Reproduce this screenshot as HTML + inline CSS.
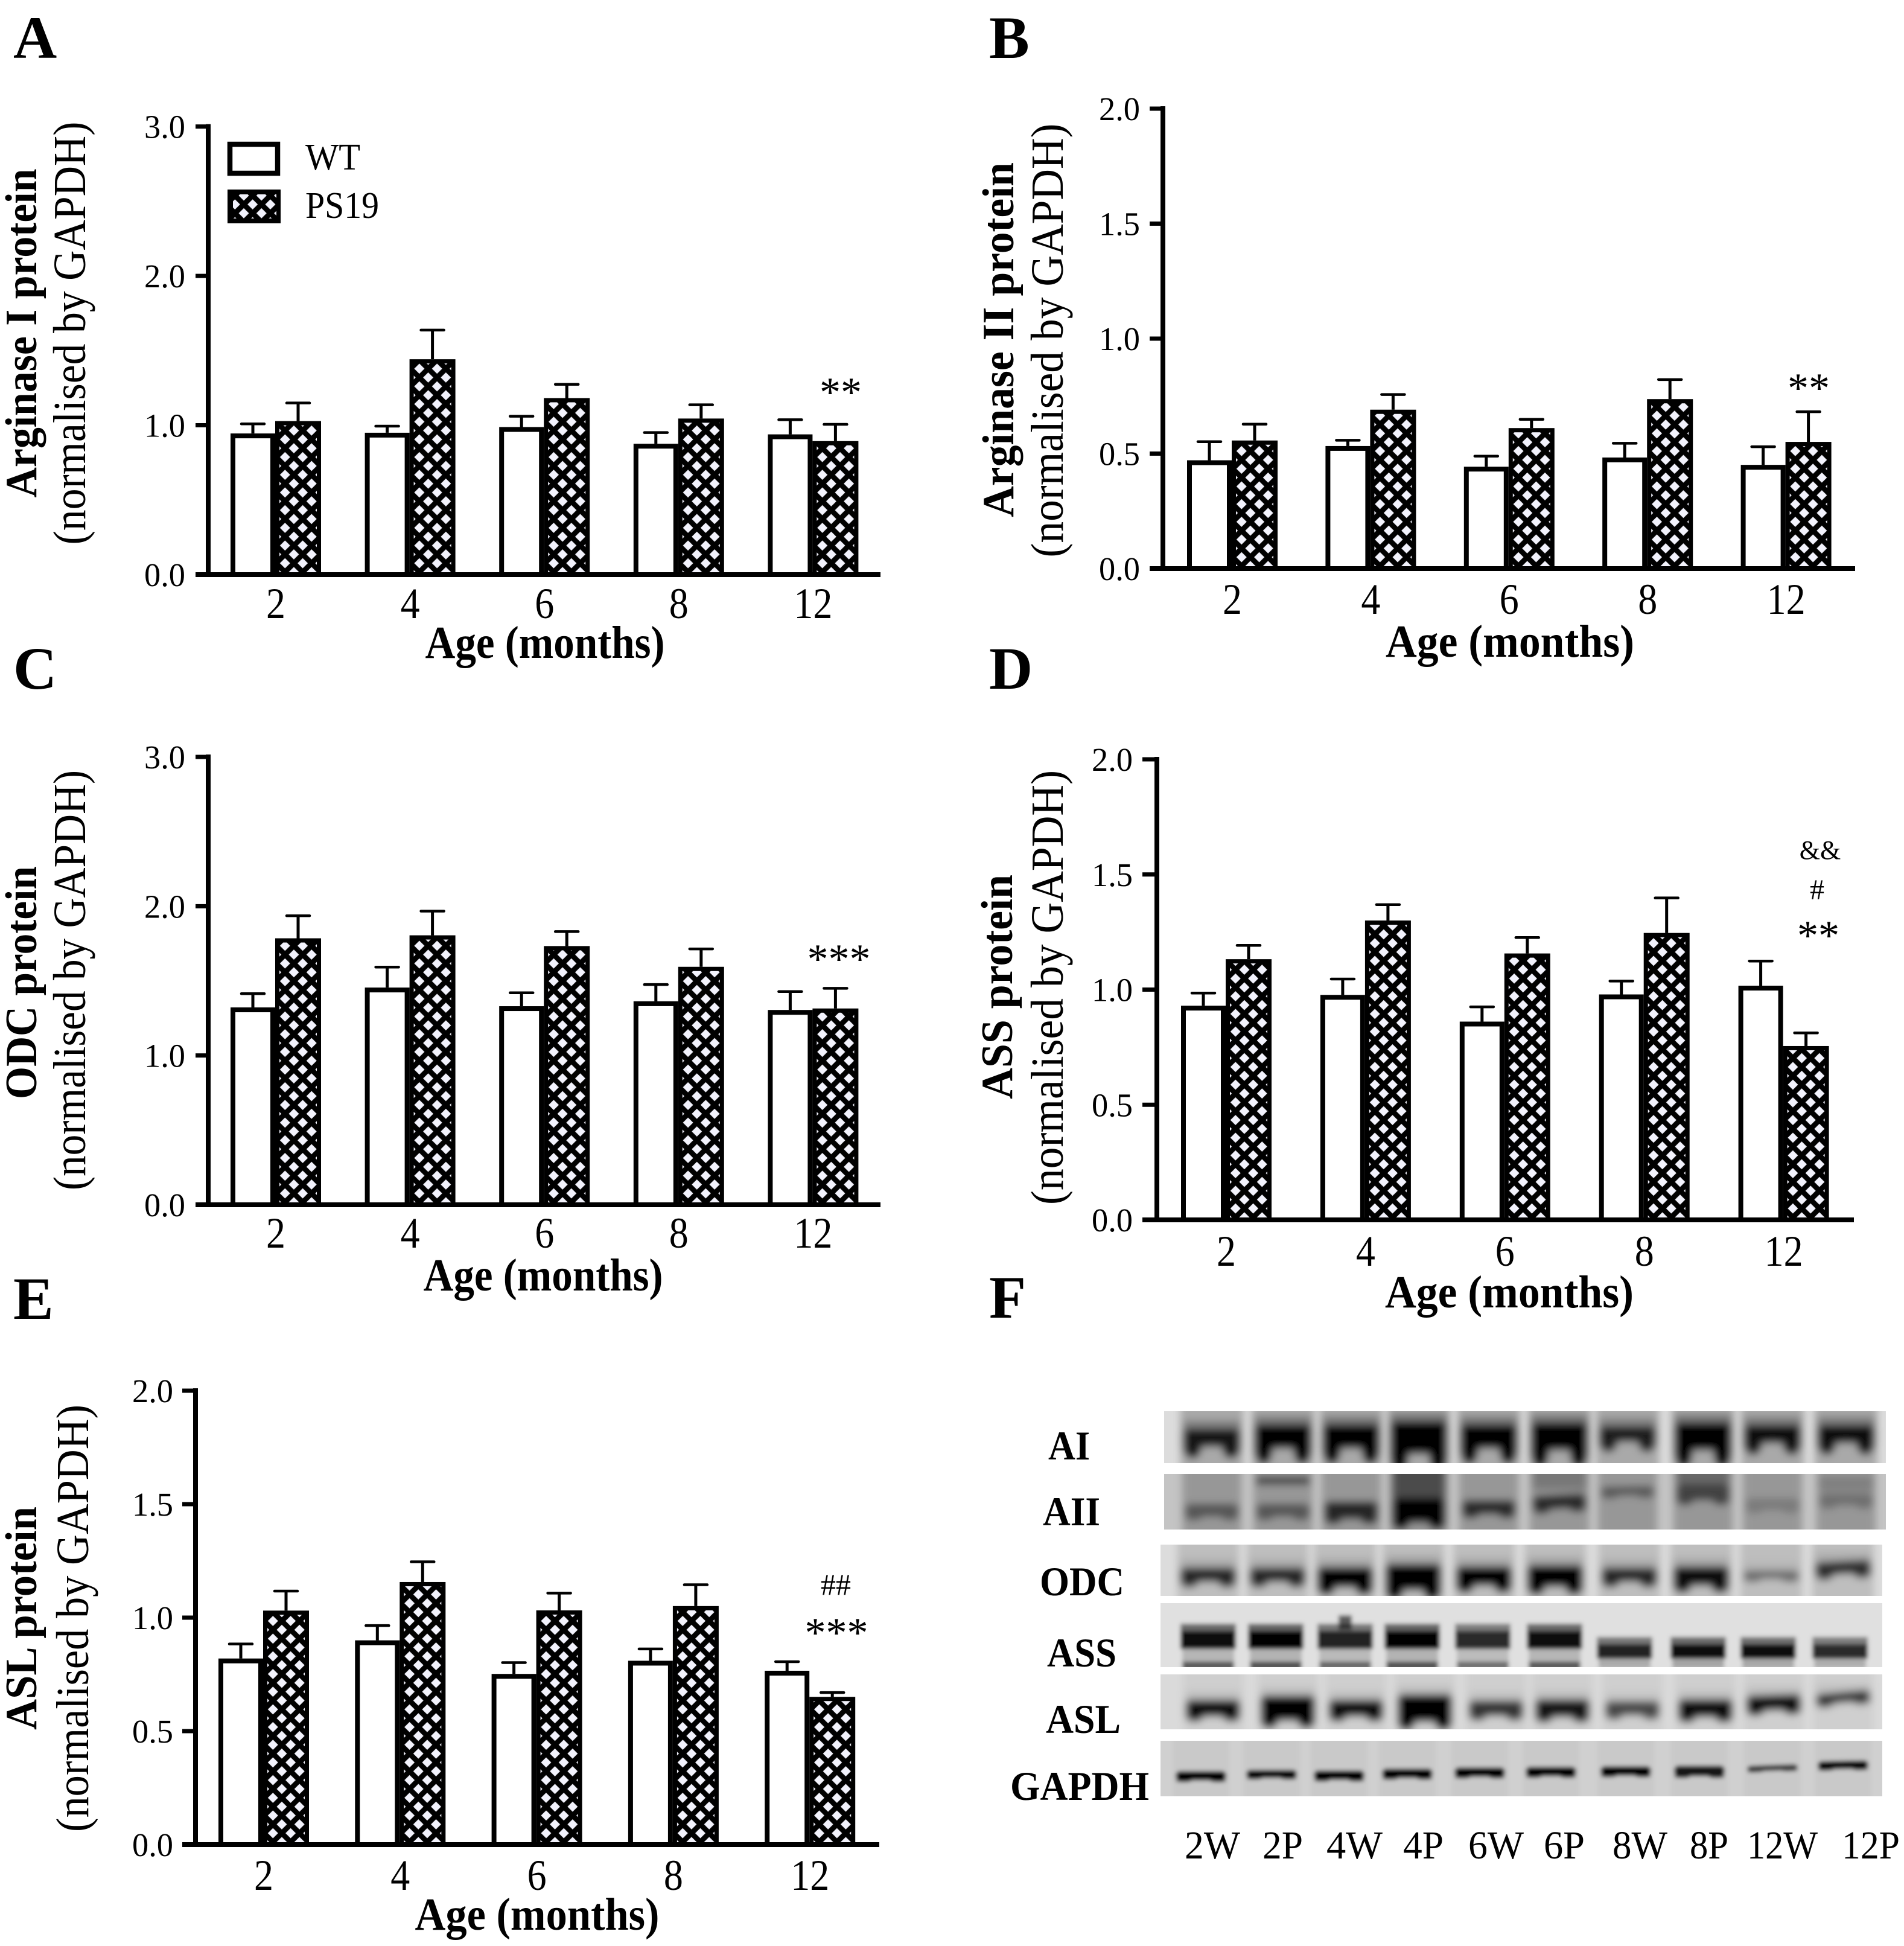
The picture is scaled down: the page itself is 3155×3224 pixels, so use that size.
<!DOCTYPE html>
<html lang="en">
<head>
<meta charset="utf-8">
<title>Arginine metabolism proteins in WT and PS19 mice</title>
<style>
html,body{margin:0;padding:0;background:#fff;}
svg{display:block;}
text{font-family:"Liberation Serif",serif;fill:#000;}
</style>
</head>
<body>
<svg id="figure" xmlns="http://www.w3.org/2000/svg" width="3155" height="3224" viewBox="0 0 3155 3224">
<defs>
<pattern id="hatch" patternUnits="userSpaceOnUse" width="29.3" height="29.3">
<rect width="29.3" height="29.3" fill="#000"/>
<polygon points="0,-8.5 8.5,0 0,8.5 -8.5,0" fill="#f2f2fc"/>
<polygon points="29.3,-8.5 37.8,0 29.3,8.5 20.8,0" fill="#f2f2fc"/>
<polygon points="0,20.8 8.5,29.3 0,37.8 -8.5,29.3" fill="#f2f2fc"/>
<polygon points="29.3,20.8 37.8,29.3 29.3,37.8 20.8,29.3" fill="#f2f2fc"/>
<polygon points="14.65,6.15 23.15,14.65 14.65,23.15 6.15,14.65" fill="#f2f2fc"/>
</pattern>
<filter id="blur-soft" x="-5%" y="-30%" width="110%" height="160%"><feGaussianBlur stdDeviation="6.5"/></filter>
<filter id="blur-hard" x="-5%" y="-30%" width="110%" height="160%"><feGaussianBlur stdDeviation="3.5"/></filter>
</defs>
<rect width="3155" height="3224" fill="#fff"/>

<text x="22" y="96" font-size="100" font-weight="bold">A</text>
<text x="1639" y="96" font-size="100" font-weight="bold">B</text>
<text x="22" y="1141" font-size="100" font-weight="bold">C</text>
<text x="1639" y="1141" font-size="100" font-weight="bold">D</text>
<text x="22" y="2185" font-size="100" font-weight="bold">E</text>
<text x="1639" y="2183" font-size="100" font-weight="bold">F</text>

<g>
<rect x="381" y="239" width="79" height="48" fill="#fff" stroke="#000" stroke-width="8.5"/>
<text x="506" y="281" font-size="62" textLength="91" lengthAdjust="spacingAndGlyphs">WT</text>
<rect x="377" y="314" width="88" height="56" fill="#000"/>
<g transform="translate(404,324)"><rect x="-18" y="-2" width="72" height="40" fill="url(#hatch)"/></g>
<text x="506" y="361" font-size="62" textLength="122" lengthAdjust="spacingAndGlyphs">PS19</text>
</g>

<g id="charts"></g>
<g id="blots"></g>

<script>
/* ---------- chart data ---------- */
const categories = ['2', '4', '6', '8', '12'];
const ticks3 = [0, 1, 2, 3];
const ticks2 = [0, 0.5, 1, 1.5, 2];
const tickLabels3 = ['0.0', '1.0', '2.0', '3.0'];
const tickLabels2 = ['0.0', '0.5', '1.0', '1.5', '2.0'];

const arg1Wt = [0.945, 0.95, 0.988, 0.876, 0.939];
const arg1WtUpper = [1.009, 0.994, 1.06, 0.951, 1.037];
const arg1Ps = [1.028, 1.442, 1.182, 1.045, 0.894];
const arg1PsUpper = [1.149, 1.637, 1.274, 1.137, 1.006];

const arg2Wt = [0.471, 0.533, 0.443, 0.483, 0.451];
const arg2WtUpper = [0.552, 0.558, 0.489, 0.545, 0.53];
const arg2Ps = [0.557, 0.691, 0.611, 0.737, 0.551];
const arg2PsUpper = [0.628, 0.757, 0.649, 0.822, 0.682];

const odcWt = [1.322, 1.455, 1.33, 1.363, 1.305];
const odcWtUpper = [1.414, 1.592, 1.42, 1.475, 1.428];
const odcPs = [1.785, 1.805, 1.733, 1.594, 1.315];
const odcPsUpper = [1.936, 1.967, 1.83, 1.714, 1.45];

const assWt = [0.93, 0.977, 0.861, 0.979, 1.017];
const assWtUpper = [0.985, 1.046, 0.925, 1.037, 1.124];
const assPs = [1.132, 1.3, 1.157, 1.246, 0.755];
const assPsUpper = [1.192, 1.369, 1.226, 1.398, 0.812];

const aslWt = [0.82, 0.9, 0.752, 0.81, 0.766];
const aslWtUpper = [0.884, 0.965, 0.802, 0.862, 0.806];
const aslPs = [1.031, 1.157, 1.032, 1.051, 0.651];
const aslPsUpper = [1.117, 1.246, 1.108, 1.145, 0.67];

/* ---------- helpers ---------- */
const NS = 'http://www.w3.org/2000/svg';
function mk(tag, attrs, parent) {
  const el = document.createElementNS(NS, tag);
  for (const k in attrs) el.setAttribute(k, attrs[k]);
  parent.appendChild(el);
  return el;
}
function txt(str, attrs, parent) {
  const el = mk('text', attrs, parent);
  el.textContent = str;
  return el;
}

const panels = [
  { id: 'a', wt: arg1Wt, wtU: arg1WtUpper, ps: arg1Ps, psU: arg1PsUpper, ticks: ticks3, labels: tickLabels3, max: 3,
    axisX: 345, top: 209.6, base: 952, tickL: 324, endX: 1459, left: 382, stride: 222.6, tickRight: 307,
    xTickY: 1024, ageY: 1090, ageX: 903, ageLen: 397,
    bold: 'Arginase I protein', boldX: 60, boldY: 552, boldLen: 545, normX: 141, normY: 552, normLen: 701,
    marks: [['**', 1393, 673, 70]] },
  { id: 'b', wt: arg2Wt, wtU: arg2WtUpper, ps: arg2Ps, psU: arg2PsUpper, ticks: ticks2, labels: tickLabels2, max: 2,
    axisX: 1927, top: 180, base: 942, tickL: 1905, endX: 3074, left: 1967, stride: 229.4, tickRight: 1889,
    xTickY: 1017, ageY: 1088, ageX: 2502, ageLen: 412,
    bold: 'Arginase II protein', boldX: 1679, boldY: 563, boldLen: 588, normX: 1761, normY: 564, normLen: 719,
    marks: [['**', 2997, 666, 70]] },
  { id: 'c', wt: odcWt, wtU: odcWtUpper, ps: odcPs, psU: odcPsUpper, ticks: ticks3, labels: tickLabels3, max: 3,
    axisX: 345, top: 1254, base: 1996, tickL: 324, endX: 1459, left: 382, stride: 222.6, tickRight: 307,
    xTickY: 2067, ageY: 2138, ageX: 900, ageLen: 397,
    bold: 'ODC protein', boldX: 60, boldY: 1628, boldLen: 386, normX: 141, normY: 1624, normLen: 696,
    marks: [['***', 1390, 1612, 70]] },
  { id: 'd', wt: assWt, wtU: assWtUpper, ps: assPs, psU: assPsUpper, ticks: ticks2, labels: tickLabels2, max: 2,
    axisX: 1917, top: 1258, base: 2021, tickL: 1893, endX: 3072, left: 1957, stride: 230.9, tickRight: 1877,
    xTickY: 2097, ageY: 2166, ageX: 2501, ageLen: 412,
    bold: 'ASS protein', boldX: 1677, boldY: 1635, boldLen: 372, normX: 1761, normY: 1636, normLen: 720,
    marks: [['&&', 3016, 1423, 44], ['#', 3011, 1490, 48], ['**', 3013, 1573, 70]] },
  { id: 'e', wt: aslWt, wtU: aslWtUpper, ps: aslPs, psU: aslPsUpper, ticks: ticks2, labels: tickLabels2, max: 2,
    axisX: 324, top: 2304, base: 3056, tickL: 302, endX: 1457, left: 362, stride: 226.3, tickRight: 287,
    xTickY: 3131, ageY: 3197, ageX: 890, ageLen: 405,
    bold: 'ASL protein', boldX: 60, boldY: 2681, boldLen: 370, normX: 146, normY: 2681, normLen: 708,
    marks: [['##', 1385, 2642, 50], ['***', 1386, 2728, 70]] }
];

const chartsRoot = document.getElementById('charts');
const WT_W = 74, PS_W = 76, DX = 16.3, ROW = 18.9;

function drawPanel(p) {
  const yScale = v => p.base - (v / p.max) * (p.base - p.top);
  const wtX = i => p.left + i * p.stride;
  const psX = i => wtX(i) + WT_W;

  const g = mk('g', {}, chartsRoot);
  
  

  categories.forEach((cat, i) => {
    [[p.wtU, wtX(i) + WT_W / 2, p.wt], [p.psU, psX(i) + PS_W / 2, p.ps]].forEach((s, k) => {
      const stem = mk('line', { x1: s[1], x2: s[1], y1: yScale(s[2][i]), y2: yScale(s[0][i]), stroke: '#000', 'stroke-width': 5 }, g);
      
      
      const cap = mk('line', { x1: s[1] - 19, x2: s[1] + 19, y1: yScale(s[0][i]), y2: yScale(s[0][i]), stroke: '#000', 'stroke-width': 4.5, 'stroke-linecap': 'round' }, g);
      
      
    });

    const wtBar = mk('rect', { x: wtX(i) + 4, y: yScale(p.wt[i]) + 4, width: WT_W - 8, height: p.base - yScale(p.wt[i]) - 4, fill: '#fff', stroke: '#000', 'stroke-width': 8 }, g);
    
    

    const frame = mk('rect', { x: psX(i), y: yScale(p.ps[i]), width: PS_W, height: p.base - yScale(p.ps[i]), fill: '#000' }, g);
    
    

    const ox = psX(i) + DX, oy = p.base - ROW;
    const hg = mk('g', { transform: 'translate(' + ox + ',' + oy + ')' }, g);
    const fill = mk('rect', { x: psX(i) + 7 - ox, y: yScale(p.ps[i]) + 7 - oy, width: PS_W - 14, height: Math.max(0, p.base - yScale(p.ps[i]) - 7), fill: 'url(#hatch)' }, hg);
    
    

    const label = txt(cat, { x: wtX(i) + (WT_W + PS_W) / 2, y: p.xTickY, 'font-size': 72, 'text-anchor': 'middle', textLength: 32 * cat.length, lengthAdjust: 'spacingAndGlyphs' }, g);
    
    
  });

  const yAxis = mk('line', { x1: p.axisX, x2: p.axisX, y1: p.top - 4, y2: p.base + 4, stroke: '#000', 'stroke-width': 8 }, g);
  
  
  const xAxis = mk('line', { x1: p.tickL, x2: p.endX, y1: p.base, y2: p.base, stroke: '#000', 'stroke-width': 8 }, g);
  
  

  p.ticks.forEach((t, i) => {
    const tick = mk('line', { x1: p.tickL, x2: p.axisX, y1: yScale(t), y2: yScale(t), stroke: '#000', 'stroke-width': 7 }, g);
    
    
    const lab = txt(p.labels[i], { x: p.tickRight, y: yScale(t) + 19, 'font-size': 55, 'text-anchor': 'end', textLength: 68, lengthAdjust: 'spacingAndGlyphs' }, g);
    
    
  });

  const age = txt('Age (months)', { x: p.ageX, y: p.ageY, 'font-size': 76, 'font-weight': 'bold', 'text-anchor': 'middle', textLength: p.ageLen, lengthAdjust: 'spacingAndGlyphs' }, g);
  
  

  const boldT = txt(p.bold, { transform: 'translate(' + p.boldX + ',' + p.boldY + ') rotate(-90)', 'font-size': 74, 'font-weight': 'bold', 'text-anchor': 'middle', textLength: p.boldLen, lengthAdjust: 'spacingAndGlyphs' }, g);
  
  
  const normT = txt('(normalised by GAPDH)', { transform: 'translate(' + p.normX + ',' + p.normY + ') rotate(-90)', 'font-size': 76, 'text-anchor': 'middle', textLength: p.normLen, lengthAdjust: 'spacingAndGlyphs' }, g);
  
  

  p.marks.forEach(m => {
    const s = txt(m[0], { x: m[1], y: m[2], 'font-size': m[3], 'text-anchor': 'middle' }, g);
    
    
  });
}
panels.forEach(drawPanel);

/* ---------- western blot strips ---------- */
const blotRoot = document.getElementById('blots');
const xAI = [2008, 2126, 2239, 2351, 2467, 2584, 2697, 2822, 2937, 3059];
const xODC = [2002, 2117, 2229, 2342, 2459, 2577, 2700, 2819, 2935, 3054];
const xASL = [2010, 2134, 2247, 2361, 2479, 2589, 2705, 2826, 2939, 3054];
const xGAP = [1990, 2107, 2219, 2332, 2452, 2570, 2694, 2816, 2937, 3054];
const strips = [
  { name: 'ai', x: 1929, y: 2338, w: 1196, h: 86, base: '#dcdcdc', lane: '#a9a9a9', xs: xAI, hw: 47, lobe: 2.4, halo: .3, blur: 'blur-soft',
    cy: [44,42,42,44,42,42,38,42,38,38], hh: [15,20,20,27,20,23,13,23,15,15],
    op: [.85,.97,.97,1,.97,1,.78,1,.88,.88], tilt: [0,0,0,0,0,0,0,0,0,0] },
  { name: 'aii', x: 1929, y: 2442, w: 1196, h: 92, base: '#c4c4c4', lane: '#979797', xs: xAI, hw: 44, lobe: 1, halo: 0, blur: 'blur-soft',
    cy: [60,60,60,60,55,46,28,30,50,42], hh: [11,11,15,21,12,12,8,14,10,10],
    op: [.42,.42,.75,1,.7,.72,.4,.55,.18,.25], tilt: [0,0,0,0,0,-3,-1,0,0,0] },
  { name: 'odc', x: 1923, y: 2559, w: 1196, h: 85, base: '#dcdcdc', lane: '#bebebe', xs: xODC, hw: 46, lobe: 1.4, halo: .12, blur: 'blur-soft',
    cy: [50,50,54,54,52,52,50,52,50,38], hh: [12,12,17,22,16,18,12,16,7,11],
    op: [.78,.78,.97,1,.97,1,.78,.95,.4,.72], tilt: [0,0,0,0,0,0,0,0,0,-3] },
  { name: 'asl', x: 1923, y: 2774, w: 1196, h: 91, base: '#dadada', lane: '#cfcfcf', xs: xASL, hw: 45, lobe: 1.1, halo: .08, blur: 'blur-soft',
    cy: [56,56,56,56,56,56,56,56,47,38], hh: [14,21,14,23,13,15,12,15,13,9],
    op: [.95,1,.92,1,.72,.88,.62,.95,.92,.72], tilt: [0,0,0,0,0,0,0,0,-2,-5] },
  { name: 'gapdh', x: 1923, y: 2884, w: 1196, h: 92, base: '#d0d0d0', lane: '#c9c9c9', xs: xGAP, hw: 42, lobe: .6, halo: 0, blur: 'blur-hard',
    cy: [58,55,57,54,52,51,50,50,45,40], hh: [8,7,8,8,8,8,8,9,5,7],
    op: [1,1,1,1,1,1,1,.9,.7,1], tilt: [0,0,0,0,0,0,0,0,-2,-1] }
];

function drawStrip(s) {
  const box = mk('svg', { x: s.x, y: s.y, width: s.w, height: s.h }, blotRoot);
  
  
  mk('rect', { width: s.w, height: s.h, fill: s.base }, box);
  const soft = mk('g', { filter: 'url(#' + s.blur + ')' }, box);
  mk('rect', { x: 0, y: -30, width: 1, height: s.h + 60, fill: s.base, opacity: 0 }, soft);
  s.xs.forEach(cx0 => {
    const cx = cx0 - s.x;
    mk('rect', { x: cx - s.hw - 5, y: -30, width: 2 * s.hw + 10, height: s.h + 60, fill: s.lane }, soft);
  });
  s.xs.forEach((cx0, i) => {
    const cx = cx0 - s.x, cy = s.cy[i], hh = s.hh[i], w = s.hw;
    if (s.halo) {
      const halo = mk('rect', { x: cx - w, y: cy - hh - 14, width: 2 * w, height: 2 * hh + 14, fill: '#000', opacity: s.halo * s.op[i] }, soft);
      
      
    }
    const band = mk('g', { opacity: s.op[i], transform: 'rotate(' + s.tilt[i] + ' ' + cx + ' ' + cy + ')' }, soft);
    
    
    mk('rect', { x: cx - w, y: cy - hh, width: 2 * w, height: 2 * hh, rx: 8, fill: '#000' }, band);
    mk('ellipse', { cx: cx - w * .68, cy: cy + hh, rx: w * .32, ry: hh * .55 * s.lobe, fill: '#000' }, band);
    mk('ellipse', { cx: cx + w * .68, cy: cy + hh, rx: w * .32, ry: hh * .55 * s.lobe, fill: '#000' }, band);
  });
  if (s.name === 'aii') {
    mk('rect', { x: 2126 - s.x - 44, y: 4, width: 88, height: 14, fill: '#000', opacity: .55 }, soft);
    mk('rect', { x: 2351 - s.x - 44, y: -20, width: 88, height: 60, fill: '#000', opacity: .5 }, soft);
    mk('rect', { x: 2584 - s.x - 44, y: -20, width: 88, height: 46, fill: '#000', opacity: .2 }, soft);
    mk('rect', { x: 2822 - s.x - 44, y: -20, width: 88, height: 36, fill: '#000', opacity: .3 }, soft);
    mk('rect', { x: 3059 - s.x - 44, y: 4, width: 88, height: 24, fill: '#000', opacity: .15 }, soft);
  }
}
strips.forEach(drawStrip);

/* ASS strip: tiered, less blurred bands */
const xASS = [2002, 2114, 2229, 2340, 2457, 2576, 2692, 2814, 2930, 3049];
const assTier = [.95, 1, .85, 1, .8, .95, .85, .95, .92, .8];
(function () {
  const s = { x: 1923, y: 2656, w: 1196, h: 106 };
  const box = mk('svg', { x: s.x, y: s.y, width: s.w, height: s.h }, blotRoot);
  
  
  mk('rect', { width: s.w, height: s.h, fill: '#e0e0e0' }, box);
  const g = mk('g', { filter: 'url(#blur-hard)' }, box);
  mk('rect', { x: 0, y: 0, width: s.w, height: s.h, fill: '#e0e0e0' }, g);
  xASS.forEach((cx0, i) => {
    const cx = cx0 - s.x, w = 46, early = i < 6;
    const t = early ? 34 : 56;
    const band = mk('g', { opacity: assTier[i] }, g);
    
    
    mk('rect', { x: cx - w, y: t, width: 2 * w, height: 14, fill: '#000', opacity: .55 }, band);
    mk('rect', { x: cx - w, y: t + 12, width: 2 * w, height: early ? 30 : 24, fill: '#000' }, band);
    if (early) {
      mk('rect', { x: cx - w + 3, y: 76, width: 2 * w - 6, height: 22, fill: '#000', opacity: .2 }, band);
      mk('rect', { x: cx - w + 3, y: 97, width: 2 * w - 6, height: 14, fill: '#000', opacity: .65 }, band);
    } else {
      mk('rect', { x: cx - w + 3, y: 90, width: 2 * w - 6, height: 20, fill: '#000', opacity: .28 }, band);
    }
  });
  const spot = mk('rect', { x: 2229 - s.x - 11, y: 20, width: 22, height: 24, fill: '#000', opacity: .6 }, g);
  
  
})();

/* blot row labels */
const rowNames = ['AI', 'AII', 'ODC', 'ASS', 'ASL', 'GAPDH'];
const rowLeft = [1737, 1728, 1723, 1735, 1733, 1674];
const rowLen = [69, 95, 140, 115, 124, 230];
const rowBase = [2418, 2527, 2643, 2761, 2871, 2982];
rowNames.forEach((n, i) => {
  const t = txt(n, { x: rowLeft[i], y: rowBase[i], 'font-size': 68, 'font-weight': 'bold', textLength: rowLen[i], lengthAdjust: 'spacingAndGlyphs' }, blotRoot);
  
  
});

/* blot lane labels */
const laneNames = ['2W', '2P', '4W', '4P', '6W', '6P', '8W', '8P', '12W', '12P'];
const laneLeft = [1963, 2092, 2198, 2325, 2433, 2558, 2672, 2800, 2895, 3052];
const laneLen = [92, 67, 93, 67, 92, 68, 91, 64, 117, 96];
laneNames.forEach((n, i) => {
  const t = txt(n, { x: laneLeft[i], y: 3079, 'font-size': 66, textLength: laneLen[i], lengthAdjust: 'spacingAndGlyphs' }, blotRoot);
  
  
});
</script>
</svg>
</body>
</html>
